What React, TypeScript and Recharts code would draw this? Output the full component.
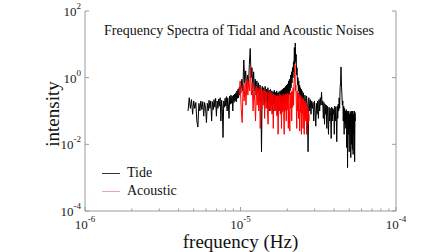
import { LineChart, Line, XAxis, YAxis } from 'recharts';

// frequencies in µHz (axis shows Hz as 10^-6 .. 10^-4)
const tideFreq = [
  4.6, 4.68, 4.76, 4.84, 4.92, 5.0, 5.08, 5.16, 5.24, 5.32, 5.4, 5.48, 5.56, 5.64, 5.72, 5.8, 5.88, 5.96, 6.04, 6.12,
  6.2, 6.28, 6.36, 6.44, 6.52, 6.6, 6.68, 6.76, 6.84, 6.92, 7.0, 7.08, 7.16, 7.24, 7.32, 7.4, 7.48, 7.56, 7.64, 7.72,
  7.8, 7.88, 7.96, 8.04, 8.12, 8.2, 8.28, 8.36, 8.44, 8.52, 8.6, 8.68, 8.76, 8.84, 8.92, 9.0, 9.08, 9.16, 9.24, 9.32,
  9.4, 9.48, 9.56, 9.64, 9.72, 9.8, 9.88, 9.96,
  10.05, 10.2, 10.35, 10.5, 10.65, 10.8, 10.95, 11.1, 11.25, 11.4,
  11.55, 11.7, 11.85, 12.0, 12.15, 12.3, 12.45, 12.6, 12.75, 12.9,
  13.05, 13.2, 13.35, 13.5, 13.65, 13.8, 13.95, 14.1, 14.25, 14.4,
  14.55, 14.7, 14.85, 15.0, 15.15, 15.3, 15.45, 15.6, 15.75, 15.9,
  16.05, 16.2, 16.35, 16.5, 16.65, 16.8, 16.95, 17.1, 17.25, 17.4,
  17.55, 17.7, 17.85, 18.0, 18.15, 18.3, 18.45, 18.6, 18.75, 18.9,
  19.05, 19.2, 19.35, 19.5, 19.65, 19.8, 19.95, 20.1, 20.25, 20.4,
  20.55, 20.7, 20.85, 21.0, 21.15, 21.3, 21.45, 21.6, 21.75, 21.9,
  22.05, 22.2, 22.35, 22.5, 22.65, 22.8, 22.95, 23.1, 23.25, 23.4,
  23.55, 23.7, 23.85, 24.0, 24.15, 24.3, 24.45, 24.6, 24.75, 24.9,
  25.1, 25.4, 25.7, 26.0, 26.3, 26.6, 26.9, 27.2, 27.5, 27.8,
  28.1, 28.4, 28.7, 29.0, 29.3, 29.6, 29.9, 30.2, 30.5, 30.8,
  31.1, 31.4, 31.7, 32.0, 32.3, 32.6, 32.9, 33.2, 33.5, 33.8,
  34.1, 34.4, 34.7, 35.0, 35.3, 35.6, 35.9, 36.2, 36.5, 36.8,
  37.1, 37.4, 37.7, 38.0, 38.3, 38.6, 38.9, 39.2, 39.5, 39.8,
  40.1, 40.4, 40.7, 41.0, 41.3, 41.6, 41.9, 42.2, 42.5, 42.8,
  43.1, 43.4, 43.7, 44.0, 44.3, 44.6, 44.9, 45.2, 45.5, 45.8,
  46.1, 46.4, 46.7, 47.0, 47.3, 47.6, 47.9, 48.2, 48.5, 48.8,
  49.1, 49.4, 49.7, 50.0, 50.3, 50.6, 50.9, 51.2, 51.5, 51.8,
  52.1, 52.4, 52.7, 53.0, 53.3, 53.6, 53.9, 54.2, 54.5, 54.8,
];

const tideAmp = [
  0.1, 0.25, 0.12, 0.22, 0.08, 0.2, 0.12, 0.18, 0.05, 0.033, 0.17, 0.1, 0.2, 0.11, 0.19, 0.07, 0.18, 0.12, 0.045, 0.17,
  0.1, 0.21, 0.12, 0.2, 0.05, 0.19, 0.11, 0.22, 0.13, 0.24, 0.07, 0.2, 0.12, 0.23, 0.14, 0.25, 0.05, 0.21, 0.12, 0.016,
  0.2, 0.13, 0.24, 0.14, 0.27, 0.1, 0.25, 0.15, 0.06, 0.28, 0.16, 0.3, 0.17, 0.28, 0.1, 0.3, 0.18, 0.32, 0.2, 0.35,
  0.19, 0.4, 0.24, 0.45, 0.25, 0.5, 0.3, 0.55,
  0.35, 0.9, 0.4, 3.4, 0.7, 1.6, 0.5, 1.2, 0.6, 2.5,
  7.5, 1.0, 2.0, 0.5, 1.5, 0.4, 0.9, 0.3, 0.8, 0.35,
  0.7, 0.2, 0.6, 0.3, 0.006, 0.55, 0.25, 0.5, 0.15, 0.55,
  0.2, 0.45, 0.12, 0.5, 0.18, 0.42, 0.1, 0.45, 0.15, 0.4,
  0.09, 0.38, 0.16, 0.42, 0.1, 0.36, 0.14, 0.4, 0.08, 0.35,
  0.15, 0.38, 0.1, 0.4, 0.16, 0.42, 0.09, 0.45, 0.18, 0.48,
  0.12, 0.5, 0.2, 0.55, 0.15, 0.6, 0.25, 0.65, 0.2, 0.8,
  0.3, 0.9, 0.4, 1.2, 0.5, 1.5, 0.7, 2.0, 1.0, 3.0,
  1.5, 8.0, 2.5, 11.0, 3.0, 5.0, 1.2, 2.0, 0.6, 1.0,
  0.4, 0.8, 0.3, 0.6, 0.25, 0.5, 0.2, 0.45, 0.15, 0.4,
  0.18, 0.35, 0.12, 0.3, 0.1, 0.28, 0.15, 0.006, 0.25, 0.1,
  0.22, 0.08, 0.2, 0.12, 0.18, 0.05, 0.2, 0.1, 0.035, 0.17,
  0.08, 0.2, 0.06, 0.22, 0.1, 0.25, 0.15, 0.37, 0.15, 0.2,
  0.06, 0.18, 0.04, 0.16, 0.08, 0.15, 0.03, 0.14, 0.06, 0.02,
  0.13, 0.05, 0.12, 0.07, 0.015, 0.13, 0.05, 0.12, 0.08, 0.11,
  0.02, 0.14, 0.05, 0.13, 0.07, 0.012, 0.14, 0.06, 0.16, 0.1,
  0.25, 0.12, 0.5, 0.7, 2.1, 0.6, 0.3, 0.15, 0.2, 0.05,
  0.14, 0.02, 0.12, 0.04, 0.1, 0.03, 0.11, 0.008, 0.1, 0.002,
  0.09, 0.02, 0.1, 0.006, 0.08, 0.03, 0.09, 0.004, 0.1, 0.01,
  0.09, 0.007, 0.1, 0.005, 0.08, 0.02, 0.1, 0.003, 0.09, 0.05,
];

const acousticFreq = [
  9.8, 9.95, 10.1, 10.25, 10.4, 10.55, 10.7, 10.85, 11.0, 11.15,
  11.3, 11.45, 11.6, 11.75, 11.9, 12.05, 12.2, 12.35, 12.5, 12.65,
  12.8, 12.95, 13.1, 13.25, 13.4, 13.55, 13.7, 13.85, 14.0, 14.15,
  14.3, 14.45, 14.6, 14.75, 14.9, 15.05, 15.2, 15.35, 15.5, 15.65,
  15.8, 15.95, 16.1, 16.25, 16.4, 16.55, 16.7, 16.85, 17.0, 17.15,
  17.3, 17.45, 17.6, 17.75, 17.9, 18.05, 18.2, 18.35, 18.5, 18.65,
  18.8, 18.95, 19.1, 19.25, 19.4, 19.55, 19.7, 19.85, 20.0, 20.15,
  20.3, 20.45, 20.6, 20.75, 20.9, 21.05, 21.2, 21.35, 21.5, 21.65,
  21.8, 21.95, 22.1, 22.25, 22.4, 22.55, 22.7, 22.85, 23.0, 23.15,
  23.3, 23.45, 23.6, 23.75, 23.9, 24.05, 24.2, 24.35, 24.5, 24.65,
  24.8, 24.95, 25.1, 25.25, 25.4, 25.55, 25.7, 25.85, 26.0, 26.15,
  26.3, 26.45, 26.6, 26.75, 26.9, 27.05, 27.2, 27.35, 27.5, 27.65,
];

const acousticAmp = [
  0.3, 0.8, 0.12, 0.045, 0.6, 0.2, 0.7, 0.15, 0.9, 0.3,
  0.8, 0.4, 2.2, 0.3, 0.7, 0.1, 0.6, 0.2, 0.05, 0.55,
  0.15, 0.5, 0.1, 0.45, 0.03, 0.5, 0.12, 0.4, 0.15, 0.45,
  0.06, 0.4, 0.12, 0.38, 0.1, 0.04, 0.35, 0.12, 0.4, 0.1,
  0.35, 0.08, 0.3, 0.03, 0.32, 0.1, 0.3, 0.12, 0.28, 0.07,
  0.3, 0.02, 0.28, 0.1, 0.32, 0.08, 0.3, 0.03, 0.28, 0.1,
  0.32, 0.09, 0.02, 0.3, 0.1, 0.33, 0.05, 0.3, 0.11, 0.35,
  0.03, 0.32, 0.1, 0.025, 0.35, 0.12, 0.38, 0.05, 0.4, 0.13,
  0.5, 0.15, 0.7, 1.2, 2.4, 0.4, 0.6, 0.15, 0.03, 0.4,
  0.1, 0.35, 0.06, 0.32, 0.1, 0.025, 0.3, 0.09, 0.28, 0.02,
  0.25, 0.08, 0.24, 0.03, 0.22, 0.07, 0.02, 0.2, 0.06, 0.18,
  0.05, 0.17, 0.02, 0.15, 0.06, 0.13, 0.04, 0.1, 0.05, 0.08,
];

const xTicks = [1, 2, 3, 4, 5, 6, 7, 8, 9, 10, 20, 30, 40, 50, 60, 70, 80, 90, 100];
const yTicks = [1e-4, 1e-2, 1, 1e2];

const tideData = tideFreq.map((f, i) => ({ f, v: tideAmp[i] }));
const acousticData = acousticFreq.map((f, i) => ({ f, v: acousticAmp[i] }));

const FRAME = '#9a9a9a';
const FONT = '"Liberation Serif", "Times New Roman", serif';

const isDecade = (v: number) => Math.abs(Math.log10(v) - Math.round(Math.log10(v))) < 1e-6;

function XTickBottom({ x, y, payload }: any) {
  const major = isDecade(payload.value);
  const exp = Math.round(Math.log10(payload.value)) - 6;
  return (
    <g>
      <line x1={x} y1={y} x2={x} y2={y - (major ? 4 : 2.5)} stroke={FRAME} />
      {major && (
        <text x={x} y={y + 18} textAnchor="middle" fontFamily={FONT} fontSize={13} fill="#222">
          <tspan>10</tspan>
          <tspan dy={-7} fontSize={9}>{exp}</tspan>
        </text>
      )}
    </g>
  );
}

function XTickTop({ x, y, payload }: any) {
  const major = isDecade(payload.value);
  return <line x1={x} y1={y} x2={x} y2={y + (major ? 4 : 2.5)} stroke={FRAME} />;
}

function YTickLeft({ x, y, payload }: any) {
  const exp = Math.round(Math.log10(payload.value));
  return (
    <g>
      <line x1={x} y1={y} x2={x + 4} y2={y} stroke={FRAME} />
      <text x={x - 4} y={y + 5} textAnchor="end" fontFamily={FONT} fontSize={13} fill="#222">
        <tspan>10</tspan>
        <tspan dy={-7} fontSize={9}>{exp}</tspan>
      </text>
    </g>
  );
}

function YTickRight({ x, y }: any) {
  return <line x1={x} y1={y} x2={x - 4} y2={y} stroke={FRAME} />;
}

export default function App() {
  return (
    <div style={{ position: 'absolute', left: 0, top: 0, width: 448, height: 252, background: '#fff', fontFamily: FONT }}>
      <LineChart width={448} height={252} margin={{ top: 11, right: 0, bottom: 0, left: 0 }}>
        <XAxis
          dataKey="f"
          type="number"
          scale="log"
          domain={[1, 100]}
          allowDataOverflow
          ticks={xTicks}
          interval={0}
          height={41}
          tickSize={0}
          tickMargin={0}
          tickLine={false}
          axisLine={{ stroke: FRAME }}
          tick={<XTickBottom />}
          label={{ value: 'frequency (Hz)', position: 'insideBottom', offset: 4, fontSize: 19, fontFamily: FONT, fill: '#111' }}
        />
        <XAxis
          xAxisId="top"
          orientation="top"
          dataKey="f"
          type="number"
          scale="log"
          domain={[1, 100]}
          allowDataOverflow
          ticks={xTicks}
          interval={0}
          height={0}
          tickSize={0}
          tickMargin={0}
          tickLine={false}
          axisLine={{ stroke: FRAME }}
          tick={<XTickTop />}
        />
        <YAxis
          dataKey="v"
          type="number"
          scale="log"
          domain={[1e-4, 1e2]}
          allowDataOverflow
          ticks={yTicks}
          interval={0}
          width={85}
          tickSize={0}
          tickMargin={0}
          tickLine={false}
          axisLine={{ stroke: FRAME }}
          tick={<YTickLeft />}
        />
        <YAxis
          yAxisId="right"
          orientation="right"
          type="number"
          scale="log"
          domain={[1e-4, 1e2]}
          allowDataOverflow
          ticks={yTicks}
          interval={0}
          width={52}
          tickSize={0}
          tickMargin={0}
          tickLine={false}
          axisLine={{ stroke: FRAME }}
          tick={<YTickRight />}
        />
        <Line data={tideData} dataKey="v" name="Tide" stroke="#000" strokeWidth={1} dot={false} type="linear" isAnimationActive={false} />
        <Line data={acousticData} dataKey="v" name="Acoustic" stroke="#ff0000" strokeWidth={1} dot={false} type="linear" isAnimationActive={false} />
      </LineChart>
      <div style={{ position: 'absolute', left: 98, top: 23, width: 282, textAlign: 'center', fontSize: 14, color: '#111', whiteSpace: 'nowrap' }}>
        Frequency Spectra of Tidal and Acoustic Noises
      </div>
      <div
        style={{
          position: 'absolute',
          left: 53,
          top: 114,
          transform: 'translate(-50%, -50%) rotate(-90deg)',
          fontSize: 19,
          color: '#111',
          whiteSpace: 'nowrap',
        }}
      >
        intensity
      </div>
      <div style={{ position: 'absolute', left: 102, top: 164, fontSize: 14, color: '#111', lineHeight: '18px' }}>
        <div style={{ display: 'flex', alignItems: 'center' }}>
          <span style={{ display: 'inline-block', width: 18, height: 0, borderTop: '1.5px solid #333', marginRight: 7 }} />
          Tide
        </div>
        <div style={{ display: 'flex', alignItems: 'center' }}>
          <span style={{ display: 'inline-block', width: 18, height: 0, borderTop: '1.5px solid #e8a8a8', marginRight: 7 }} />
          Acoustic
        </div>
      </div>
    </div>
  );
}
